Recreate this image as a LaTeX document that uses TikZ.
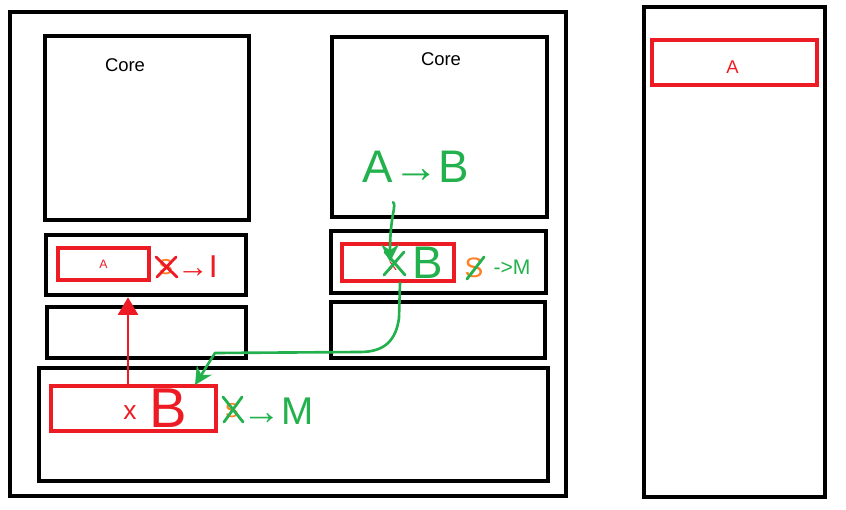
\documentclass[tikz,border=0pt]{standalone}
\usepackage{fontspec}
\setmainfont{Liberation Sans}
\usetikzlibrary{arrows.meta,calc,fit,positioning}
\definecolor{paintred}{HTML}{ED1C24}
\definecolor{paintgreen}{HTML}{22B14C}
\definecolor{paintorange}{HTML}{FF7F27}
\tikzset{box/.style={draw=black, line width=2.6pt, inner sep=0pt}, redbox/.style={draw=paintred, line width=2.1pt, inner sep=0pt}, gpath/.style={draw=paintgreen, line width=1.5pt, line cap=round, line join=round, -{Stealth[length=3.5mm,width=3.5mm]}}, rpath/.style={draw=paintred, line width=1.2pt, -{Triangle[length=3.5mm,width=4mm]}}, strike/.style={line width=1.6pt, line cap=round}, lab/.style={font=\fontsize{10.5}{12}\selectfont}, hand/.style={inner sep=0pt, font=\fontsize{#1}{#1}\selectfont}}
\begin{document}
\begin{tikzpicture}[x=0.02cm,y=-0.02cm]
\useasboundingbox (0,0) rectangle (846,510);
% machine and memory
\node[box, fit={(10,12) (566,496)}] (chip) {}; \node[box, fit={(644,7) (825,497)}] (mem) {};
\node[redbox, fit={(652,40) (817,85)}] (memA) {}; \node[text=paintred, lab] at ($(memA.center)+(-2,5)$) {A};
% two cores with their caches
\node[box, fit={(45,36) (249,220)}] (core1) {}; \node[lab] at (125,65) {Core};
\node[box, fit={(332,37) (547,217)}] (core2) {}; \node[lab] at (441,59) {Core};
\node[box, fit={(46,235) (246,295)}] (cacheL) {}; \node[box, fit={(331,231) (546,293)}] (cacheR) {};
\node[box, fit={(47,307) (246,358)}] (bufL) {}; \node[box, fit={(331,302) (545,358)}] (bufR) {};
\node[box, fit={(39,368) (548,481)}] (shared) {};
% lines in the caches
\node[redbox, fit={(58,248) (149,280)}] (lineA) {}; \node[text=paintred, font=\fontsize{7}{8}\selectfont] at (lineA.center) {A};
\node[redbox, fit={(342,244) (454,281)}] (lineB) {}; \node[redbox, fit={(51,386) (216,431)}] (lineS) {};
% states, old ones crossed out
\node[hand=16, text=paintorange] (oldL) at (166,267) {s}; \draw[strike, paintred] (156,257) -- (177,277) (176,257) -- (157,277);
\node[hand=18, text=paintred, right=2pt of oldL] {→I};
\node[hand=26, text=paintgreen] at (416,167) {A→B};
\node[hand=9, text=paintred] (oldR) at (393,266) {x}; \draw[strike, paintgreen] (385,252) -- (405,275) (404,252) -- (384,275);
\node[hand=26, text=paintgreen] at (428,263) {B};
\node[hand=16, text=paintorange] (oldS) at (474,268) {S}; \draw[strike, paintgreen] (467,279) -- (484,257);
\node[hand=12, text=paintgreen] at (512,267) {->M};
\node[hand=15, text=paintred] at (130,413) {x}; \node[hand=32, text=paintred] at (168,408) {B};
\node[hand=15, text=paintorange] (oldB) at (232,411) {s}; \draw[strike, paintgreen] (223,397) -- (243,422) (242,397) -- (224,422);
\node[hand=22, text=paintgreen, right=2pt of oldB] {→M};
% transfers
\coordinate (rx) at (128,0); \coordinate (gx) at (393,0); \coordinate (gy) at (400,0);
\draw[rpath] (lineS.north -| rx) -- (cacheL.south -| rx);
\draw[gpath] ($(core2.south -| gx)+(0,-17)$) .. controls (397,205) and (390,215) .. (390,262);
\draw[gpath] (lineB.south -| gy) -- (399,318) .. controls (396,340) and (385,352) .. (360,352) -- (215,353) -- (195,385);
\end{tikzpicture}
\end{document}
